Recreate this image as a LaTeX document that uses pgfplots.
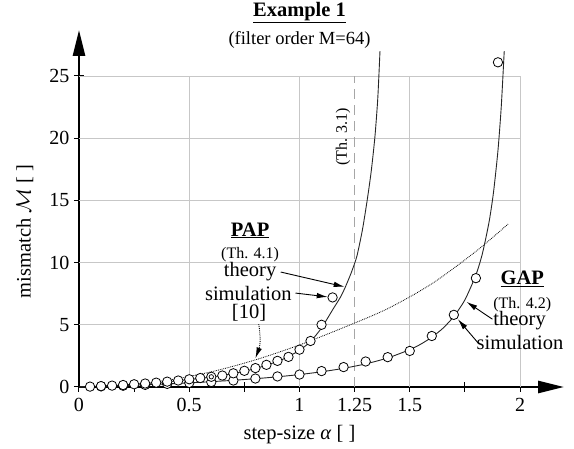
\documentclass[border=0pt]{standalone}
\usepackage{fontspec}
\setmainfont{Liberation Serif}
\usepackage{pgfplots}
\pgfplotsset{compat=1.18}
\usetikzlibrary{arrows.meta}

\begin{document}
\begin{tikzpicture}
\begin{axis}[
  anchor=origin, at={(0pt,0pt)},
  x=220.5pt, y=12.44pt,
  xmin=0, xmax=2.2, ymin=0, ymax=28.7,
  axis lines=left,
  axis line style={line width=2.6pt, -{Triangle[length=26pt,width=12pt]}},
  xtick={0,0.25,0.5,0.75,1,1.25,1.5,1.75,2},
  xticklabels={0,,0.5,,1,1.25,1.5,,2},
  ytick={0,5,10,15,20,25},
  yticklabels={0,5,10,15,20,25},
  tick align=center,
  major tick length=10pt,
  tick style={line width=1pt,black},
  ticklabel style={font=\fontsize{20}{24}\selectfont},
  xticklabel style={yshift=-3pt},
  yticklabel style={xshift=-1pt},
  clip=false,
]
% grid, only over [0,2]x[0,25]
\foreach \gx in {0.5,1,1.5,2}{
  \edef\tmp{\noexpand\draw[black!22, line width=0.9pt] (axis cs:\gx,0) -- (axis cs:\gx,25);}\tmp
}
\foreach \gy in {5,10,15,20,25}{
  \edef\tmp{\noexpand\draw[black!22, line width=0.9pt] (axis cs:0,\gy) -- (axis cs:2,\gy);}\tmp
}
\draw[black!35, line width=0.9pt, dash pattern=on 10pt off 6pt] (axis cs:1.25,0) -- (axis cs:1.25,25);

% [10] reference curve (dotted)
\addplot[black, line width=0.8pt, densely dotted, smooth] coordinates {
  (0,0) (0.2,0.14) (0.4,0.54) (0.6,1.22) (0.8,2.18) (1.0,3.38) (1.2,4.78)
  (1.4,6.3) (1.6,8.3) (1.8,10.9) (1.946,13.1)
};

% PAP theory
\addplot[black!85, line width=0.9pt, smooth, tension=0.4] coordinates {
  (0,0) (0.1,0.07) (0.2,0.16) (0.3,0.28) (0.4,0.42) (0.5,0.6) (0.6,0.8)
  (0.7,1.08) (0.8,1.48) (0.9,2.05) (0.95,2.45) (1.0,2.95) (1.05,3.65)
  (1.1,4.75) (1.15,6.2) (1.185,7.2) (1.207,8.0) (1.235,9.2) (1.26,10.5)
  (1.285,12.6) (1.306,14.9) (1.325,17.3) (1.342,20.1) (1.355,23.2) (1.365,27.0)
};

% GAP theory
\addplot[black!85, line width=0.9pt, smooth, tension=0.4] coordinates {
  (0,0) (0.1,0.053) (0.2,0.111) (0.3,0.176) (0.4,0.25) (0.5,0.333)
  (0.6,0.429) (0.7,0.538) (0.8,0.667) (0.9,0.818) (1.0,1.0) (1.1,1.222)
  (1.2,1.5) (1.3,1.857) (1.4,2.333) (1.5,3.0) (1.55,3.444) (1.6,4.0)
  (1.65,4.714) (1.7,5.667) (1.75,7.0) (1.8,9.0) (1.83,10.76) (1.86,13.29)
  (1.88,15.67) (1.9,19.0) (1.915,22.53) (1.9285,27.0)
};

% GAP simulation
\addplot[only marks, mark=*, mark size=4.7pt,
  mark options={fill=white, draw=black, line width=0.8pt}] coordinates {
  (0.1,0.05) (0.2,0.1) (0.3,0.17) (0.4,0.25) (0.5,0.33) (0.6,0.4)
  (0.7,0.52) (0.8,0.68) (0.9,0.85) (1.0,1.0) (1.1,1.28) (1.2,1.6)
  (1.3,2.05) (1.4,2.4) (1.5,2.9) (1.6,4.1) (1.7,5.8) (1.8,8.75) (1.9,26.1)
};

% PAP simulation
\addplot[only marks, mark=*, mark size=4.7pt,
  mark options={fill=white, draw=black, line width=0.8pt}] coordinates {
  (0.05,0.03) (0.10,0.07) (0.15,0.11) (0.20,0.16) (0.25,0.22) (0.30,0.28)
  (0.35,0.35) (0.40,0.43) (0.45,0.52) (0.50,0.62) (0.55,0.72) (0.60,0.82)
  (0.65,0.92) (0.70,1.10) (0.75,1.30) (0.80,1.52) (0.85,1.78) (0.90,2.10)
  (0.95,2.42) (1.00,3.00) (1.05,3.70) (1.10,5.00) (1.15,7.20)
};
\addplot[only marks, mark=o, mark size=2.2pt, mark options={black, line width=0.7pt}]
  coordinates {(0.60,0.82)};

% titles and axis labels
\node[font=\fontsize{20.5}{24}\selectfont\bfseries] at (axis cs:1.0,30.1) {\underline{Example 1}};
\node[font=\fontsize{18.5}{22}\selectfont] at (axis cs:1.0,27.9) {(filter order M=64)};
\node[font=\fontsize{20.5}{24}\selectfont, rotate=90] at (axis cs:-0.245,12.5) {mismatch $\mathcal{M}$ [ ]};
\node[font=\fontsize{20.5}{24}\selectfont] at (axis cs:1.0,-3.86) {step-size \textit{α} [ ]};
\node[font=\fontsize{16}{19}\selectfont, rotate=90] at (axis cs:1.197,20.1) {(Th. 3.1)};

% PAP annotation
\node[font=\fontsize{20.5}{24}\selectfont\bfseries] at (axis cs:0.776,12.6) {\underline{PAP}};
\node[font=\fontsize{16}{19}\selectfont] at (axis cs:0.776,10.6) {(Th. 4.1)};
\node[font=\fontsize{20.5}{24}\selectfont] at (axis cs:0.776,9.24) {theory};
\node[font=\fontsize{20.5}{24}\selectfont] at (axis cs:0.768,7.55) {simulation};
\node[font=\fontsize{20.5}{24}\selectfont] at (axis cs:0.771,5.95) {[10]};
\draw[black, line width=0.9pt, -{Latex[length=11pt,width=5.5pt]}] (axis cs:0.915,9.24) -- (axis cs:1.205,8.05);
\draw[black, line width=0.9pt, -{Latex[length=11pt,width=5.5pt]}] (axis cs:0.982,7.55) -- (axis cs:1.128,7.24);
\draw[black, line width=0.9pt, densely dotted, -{Latex[length=11pt,width=5.5pt]}] (axis cs:0.815,5.05) to[bend left=15] (axis cs:0.80,2.3);

% GAP annotation
\node[font=\fontsize{20.5}{24}\selectfont\bfseries] at (axis cs:2.01,8.7) {\underline{GAP}};
\node[font=\fontsize{16}{19}\selectfont] at (axis cs:2.01,6.65) {(Th. 4.2)};
\node[font=\fontsize{20.5}{24}\selectfont] at (axis cs:1.998,5.3) {theory};
\node[font=\fontsize{20.5}{24}\selectfont] at (axis cs:2.0,3.6) {simulation};
\draw[black, line width=0.9pt, -{Latex[length=11pt,width=5.5pt]}] (axis cs:1.875,5.45) -- (axis cs:1.757,6.85);
\draw[black, line width=0.9pt, -{Latex[length=11pt,width=5.5pt]}] (axis cs:1.812,3.5) -- (axis cs:1.718,5.45);
\end{axis}
\pgfresetboundingbox
\path (-79pt,-62pt) rectangle (495pt,387pt);
\end{tikzpicture}
\end{document}
